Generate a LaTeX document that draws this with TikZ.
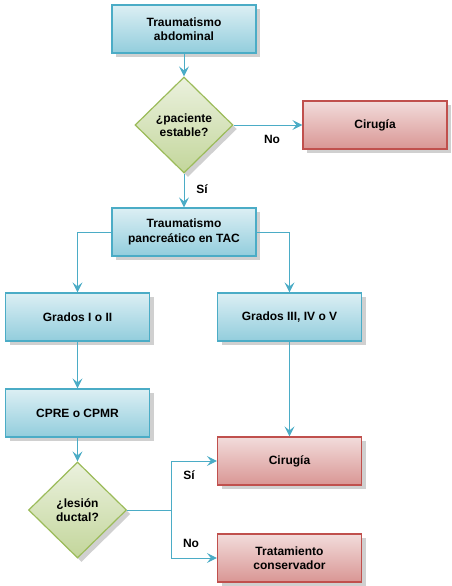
\documentclass[tikz,border=0pt]{standalone}
\usepackage{fontspec}
\setmainfont{Liberation Sans}
\usetikzlibrary{shapes.geometric,shadows,arrows.meta}
\definecolor{bborder}{HTML}{4BACC6}
\definecolor{btop}{HTML}{DCEFF4}
\definecolor{bbot}{HTML}{92CDDC}
\definecolor{rborder}{HTML}{C0504D}
\definecolor{rtop}{HTML}{F2DCDB}
\definecolor{rbot}{HTML}{D99694}
\definecolor{gborder}{HTML}{9BBB59}
\definecolor{gtop}{HTML}{EBF1DE}
\definecolor{gbot}{HTML}{C3D69B}
\definecolor{shad}{HTML}{D0D0D0}
\tikzset{
  base/.style={font=\fontsize{12}{14.5}\selectfont\bfseries, align=center, line width=1.2pt,
    drop shadow={shadow xshift=4pt, shadow yshift=-4pt, fill=shad, opacity=1}},
  bluebox/.style={base, rectangle, draw=bborder, top color=btop, bottom color=bbot,
    minimum width=144pt, minimum height=48pt, inner sep=2pt},
  redbox/.style={base, rectangle, draw=rborder, top color=rtop, bottom color=rbot,
    minimum width=144pt, minimum height=48pt, inner sep=2pt},
  greendia/.style={base, diamond, draw=gborder, top color=gtop, bottom color=gbot,
    minimum width=98pt, minimum height=96pt, inner sep=0pt},
  conn/.style={draw=bborder, line width=1pt, -{Stealth[length=10pt,width=10pt,inset=4pt]}},
  plainconn/.style={draw=bborder, line width=1pt},
  lbl/.style={font=\fontsize{12}{14}\selectfont\bfseries}
}
\begin{document}
\begin{tikzpicture}[x=1pt,y=-1pt]
\useasboundingbox (0,0) rectangle (452,586);
\node[bluebox] (b1) at (184,29) {Traumatismo\\abdominal};
\node[greendia] (d1) at (184,125) {¿paciente\\estable?};
\node[redbox] (c1) at (375,125) {Cirugía};
\node[bluebox] (b3) at (184,232) {Traumatismo\\pancreático en TAC};
\node[bluebox] (g1) at (77.5,317) {Grados I o II};
\node[bluebox] (g2) at (289.5,317) {Grados III, IV o V};
\node[bluebox] (cp) at (77.5,413) {CPRE o CPMR};
\node[redbox] (c2) at (289.5,461) {Cirugía};
\node[greendia] (d2) at (77.5,510) {¿lesión\\ductal?};
\node[redbox] (t) at (289.5,558) {Tratamiento\\conservador};
\coordinate (j) at (171,510);
\draw[conn] (b1) -- (d1);
\draw[conn] (d1.east) -- (c1.west);
\draw[conn] (d1) -- (b3);
\draw[conn] (b3.west) -| (g1.north);
\draw[conn] (b3.east) -| (g2.north);
\draw[conn] (g1) -- (cp);
\draw[conn] (g2) -- (c2);
\draw[conn] (cp) -- (d2);
\draw[plainconn] (d2.east) -- (j);
\draw[conn] (j) |- (c2.west);
\draw[conn] (j) |- (t.west);
\node[lbl] (no1) at (272,139) {No};
\node[lbl] (si1) at (202,189) {Sí};
\node[lbl] (si2) at (189,475) {Sí};
\node[lbl] (no2) at (191,543) {No};
\end{tikzpicture}
\end{document}
